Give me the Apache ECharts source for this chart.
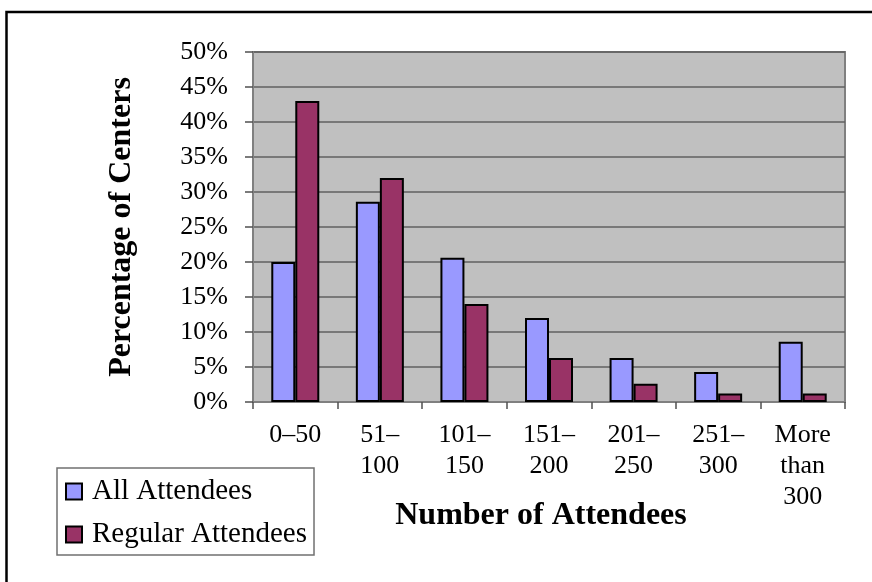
<!DOCTYPE html>
<html>
<head>
<meta charset="utf-8">
<title>Percentage of Centers by Number of Attendees</title>
<script src="https://cdn.jsdelivr.net/npm/echarts@6/dist/echarts.min.js"></script>
<style>
  html, body { margin: 0; padding: 0; background: #ffffff; }
  #chart { width: 872px; height: 582px; }
</style>
</head>
<body>
<div id="chart"></div>
<script>
// Attendance size bands (wrapped the way the axis prints them)
const categories = ['0–50', '51–\n100', '101–\n150', '151–\n200', '201–\n250', '251–\n300', 'More\nthan\n300'];

// Share of centers (%) in each band
const allAttendees = [20, 28.6, 20.6, 12, 6.3, 4.3, 8.6];
const regularAttendees = [43, 32, 14, 6.3, 2.6, 1.2, 1.2];

// Value axis range
const yMin = 0;
const yMax = 50;
const yStep = 5;

const serif = "'Liberation Serif', 'Times New Roman', serif";

const chart = echarts.init(document.getElementById('chart'), null, { renderer: 'canvas' });

chart.setOption({
  animation: false,
  backgroundColor: '#ffffff',
  grid: {
    left: 253, right: 27, top: 52, bottom: 180,
    show: true,
    backgroundColor: '#c0c0c0',
    borderColor: '#808080',
    borderWidth: 2
  },
  legend: {
    orient: 'vertical',
    left: 57, top: 468,
    padding: [9, 7, 6, 8],
    itemGap: 14,
    itemWidth: 16,
    itemHeight: 16,
    icon: 'rect',
    borderColor: '#707070',
    borderWidth: 1.5,
    backgroundColor: '#ffffff',
    itemStyle: { borderColor: '#000000', borderWidth: 2 },
    textStyle: { fontFamily: serif, fontSize: 29, lineHeight: 29, color: '#000000', padding: [0, 0, 0, 5] },
    data: ['All Attendees', 'Regular Attendees']
  },
  xAxis: {
    type: 'category',
    data: categories,
    boundaryGap: true,
    axisLine: { show: true, lineStyle: { color: '#808080', width: 2 } },
    axisTick: { show: true, length: 7, alignWithLabel: false, lineStyle: { color: '#505050', width: 1.5 } },
    axisLabel: {
      interval: 0,
      margin: 18,
      fontFamily: serif,
      fontSize: 26,
      lineHeight: 31,
      color: '#000000',
      align: 'center'
    },
    splitLine: { show: false }
  },
  yAxis: {
    type: 'value',
    min: yMin,
    max: yMax,
    interval: yStep,
    axisLine: { show: true, lineStyle: { color: '#808080', width: 2 } },
    axisTick: { show: true, length: 8, lineStyle: { color: '#505050', width: 1.5 } },
    axisLabel: {
      formatter: '{value}%',
      margin: 25,
      fontFamily: serif,
      fontSize: 26,
      color: '#000000'
    },
    splitLine: { show: true, lineStyle: { color: '#606060', width: 1.5 } }
  },
  series: [
    {
      name: 'All Attendees',
      type: 'bar',
      data: allAttendees,
      barWidth: 24,
      barGap: '0%',
      itemStyle: { color: '#9999ff', borderColor: '#000000', borderWidth: 2 }
    },
    {
      name: 'Regular Attendees',
      type: 'bar',
      data: regularAttendees,
      barWidth: 24,
      barGap: '0%',
      itemStyle: { color: '#993366', borderColor: '#000000', borderWidth: 2 }
    }
  ],
  graphic: [
    {
      type: 'rect',
      silent: true,
      shape: { x: 6.5, y: 12, width: 900, height: 600 },
      style: { fill: 'none', stroke: '#000000', lineWidth: 2.5 },
      z: 100
    },
    {
      type: 'text',
      x: 122, y: 227,
      rotation: Math.PI / 2,
      style: {
        text: 'Percentage of Centers',
        fontFamily: serif,
        fontWeight: 'bold',
        fontSize: 32,
        fill: '#000000',
        align: 'center',
        verticalAlign: 'middle'
      }
    },
    {
      type: 'text',
      x: 541, y: 516,
      style: {
        text: 'Number of Attendees',
        fontFamily: serif,
        fontWeight: 'bold',
        fontSize: 32,
        fill: '#000000',
        align: 'center',
        verticalAlign: 'middle'
      }
    }
  ]
});
</script>
</body>
</html>
